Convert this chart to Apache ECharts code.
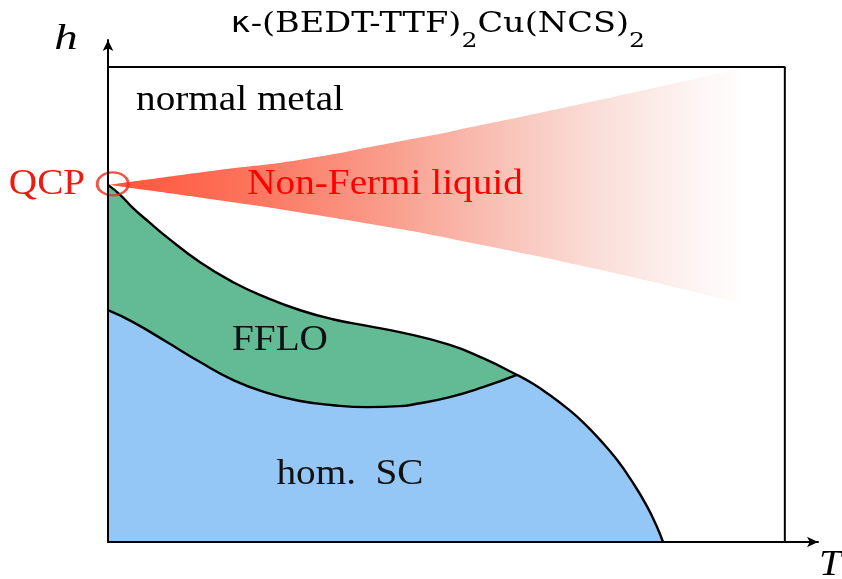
<!DOCTYPE html>
<html>
<head>
<meta charset="utf-8">
<script src="https://cdn.jsdelivr.net/npm/echarts@6/dist/echarts.min.js"></script>
<style>html,body{margin:0;padding:0;background:#fff;}#c{width:842px;height:579px;}</style>
</head>
<body>
<div id="c"></div>
<script>
// Upper boundary (normal metal -> FFLO / SC), T and h in arbitrary units
const T_upper = [0, 0.18, 0.37, 0.62, 0.87, 1.36, 1.85, 2.35, 2.84, 3.32, 3.83, 4.31, 5.05, 5.54, 6.04, 6.28, 6.53, 6.78, 7.02, 7.27, 7.52, 7.75, 7.96, 8.11, 8.20];
const h_upper = [7.52, 7.31, 7.03, 6.72, 6.42, 5.89, 5.47, 5.14, 4.88, 4.69, 4.55, 4.42, 4.15, 3.87, 3.52, 3.33, 3.09, 2.82, 2.52, 2.15, 1.73, 1.26, 0.76, 0.32, 0];
// Lower FFLO boundary (FFLO -> homogeneous SC)
const T_lower = [0, 0.37, 0.87, 1.36, 1.85, 2.35, 2.84, 3.32, 3.83, 4.31, 4.56, 5.05, 5.54, 6.04];
const h_lower = [4.88, 4.63, 4.21, 3.79, 3.41, 3.14, 2.97, 2.88, 2.84, 2.86, 2.91, 3.05, 3.26, 3.52];
// Non-Fermi liquid wedge edges
const T_nfl = [0, 1.61, 2.84, 4.31, 5.05, 7.27, 9.34];
const h_nfl_top = [7.52, 7.83, 8.05, 8.44, 8.64, 9.31, 9.97];
const h_nfl_bot = [7.52, 7.20, 6.94, 6.59, 6.39, 5.73, 5.02];
// QCP location, FFLO/SC junction temperature and plot frame
const QCP = [0.07, 7.54];
const T_junction = 6.04;
const FRAME = [[0, 10], [10, 10], [10, 0]];

const zip = (a, b) => a.map((v, i) => [v, b[i]]);
const upperPts = zip(T_upper, h_upper);
const lowerPts = zip(T_lower, h_lower);
const nflTop = zip(T_nfl, h_nfl_top);
const nflBot = zip(T_nfl, h_nfl_bot);

const GREEN = '#62bb95', BLUE = '#94c7f5';
const LAB = '35px "Liberation Serif", serif';
const LSX = 1.12;

// title pieces laid out with measured widths
const ctx = document.createElement('canvas').getContext('2d');
const tw = (t, f) => { ctx.font = f; return ctx.measureText(t).width; };
const titleParts = [
  {t: 'κ', f: '28px "DejaVu Sans"', y: 25},
  {t: '-(BEDT-TTF)', f: '28px "DejaVu Serif"', y: 25},
  {t: '2', f: '21px "DejaVu Serif"', y: 42},
  {t: 'Cu(NCS)', f: '28px "DejaVu Serif"', y: 25},
  {t: '2', f: '21px "DejaVu Serif"', y: 42}
];
const totalW = titleParts.reduce((s, p) => s + tw(p.t, p.f), 0);
let cx = -totalW / 2;
const titleChildren = titleParts.map(p => {
  const el = {type: 'text', x: cx, y: p.y, style: {text: p.t, font: p.f, fill: '#000', align: 'left', verticalAlign: 'middle'}};
  cx += tw(p.t, p.f);
  return el;
});

const chart = echarts.init(document.getElementById('c'), null, {renderer: 'canvas'});
const SMOOTH = 0.5;
const lineBase = {type: 'line', showSymbol: false, silent: true, smooth: SMOOTH};
const axisCommon = {
  type: 'value', min: 0, z: 10,
  axisLine: {show: true, onZero: false, lineStyle: {color: '#000', width: 2}, symbol: ['none', 'arrow'], symbolSize: [8, 11]},
  axisTick: {show: false}, axisLabel: {show: false}, splitLine: {show: false}
};

function buildOption(regionFill) {
  return {
    animation: false,
    backgroundColor: '#ffffff',
    grid: {left: 108, top: 40, right: 24, bottom: 37},
    xAxis: Object.assign({}, axisCommon, {max: 10.49}),
    yAxis: Object.assign({}, axisCommon, {max: 10.57}),
    series: [
      // 0: region below the upper boundary (green left of junction, blue right)
      Object.assign({}, lineBase, {data: upperPts, lineStyle: {width: 0}, areaStyle: {color: regionFill, opacity: 1}, z: 3}),
      // 1: non-Fermi-liquid wedge (gradient under top edge)
      Object.assign({}, lineBase, {
        data: nflTop, lineStyle: {width: 0}, z: 1,
        areaStyle: {
          opacity: 1,
          color: new echarts.graphic.LinearGradient(0, 0, 1, 0, [
            {offset: 0, color: 'rgba(255,84,58,1)'},
            {offset: 0.2, color: 'rgba(253,112,88,1)'},
            {offset: 0.45, color: 'rgba(249,155,138,0.97)'},
            {offset: 0.7, color: 'rgba(248,200,190,0.85)'},
            {offset: 0.88, color: 'rgba(250,225,220,0.6)'},
            {offset: 1, color: 'rgba(252,240,238,0.2)'}
          ])
        }
      }),
      // 2: white mask below the wedge's lower edge
      Object.assign({}, lineBase, {data: nflBot, lineStyle: {width: 0}, areaStyle: {color: '#ffffff', opacity: 1}, z: 2}),
      // 3: homogeneous SC below lower FFLO boundary
      Object.assign({}, lineBase, {data: lowerPts, lineStyle: {width: 2.4, color: '#000'}, areaStyle: {color: BLUE, opacity: 1}, z: 4}),
      // 4: upper boundary black line
      Object.assign({}, lineBase, {data: upperPts, lineStyle: {width: 2.4, color: '#000'}, z: 5}),
      // 5: frame
      {type: 'line', data: FRAME, showSymbol: false, silent: true, clip: false, lineStyle: {width: 2, color: '#000'}, z: 6},
      // 6: QCP marker
      {
        type: 'scatter', data: [QCP], symbol: 'circle', symbolSize: [31, 23], silent: true, clip: false,
        itemStyle: {color: 'rgba(0,0,0,0)', borderColor: '#ee2a1b', borderWidth: 2.6}, z: 7
      }
    ],
    graphic: [
      {type: 'group', x: 438, y: 0, scaleX: 1.2, z: 10, children: titleChildren},
      {type: 'text', x: 66, y: 40, scaleX: 1.3, z: 10, style: {text: 'h', font: 'italic 36px "Liberation Serif"', fill: '#000', align: 'center', verticalAlign: 'middle'}},
      {type: 'text', x: 819, y: 566, scaleX: 1.15, z: 10, style: {text: 'T', font: 'italic 35px "Liberation Serif"', fill: '#000', align: 'left', verticalAlign: 'middle'}},
      {type: 'text', x: 240, y: 101, scaleX: LSX, z: 10, style: {text: 'normal metal', font: LAB, fill: '#000', align: 'center', verticalAlign: 'middle'}},
      {type: 'text', x: 47, y: 185, scaleX: LSX, z: 10, style: {text: 'QCP', font: LAB, fill: '#ee1c10', align: 'center', verticalAlign: 'middle'}},
      {type: 'text', x: 385, y: 185, scaleX: LSX, z: 10, style: {text: 'Non-Fermi liquid', font: LAB, fill: '#ff0000', align: 'center', verticalAlign: 'middle'}},
      {type: 'text', x: 280, y: 341, scaleX: LSX, z: 10, style: {text: 'FFLO', font: LAB, fill: '#111', align: 'center', verticalAlign: 'middle'}},
      {type: 'text', x: 350, y: 475, scaleX: LSX, z: 10, style: {text: 'hom.  SC', font: LAB, fill: '#111', align: 'center', verticalAlign: 'middle'}}
    ]
  };
}

// first pass to establish the scales, then split the fill colour at the junction temperature
chart.setOption(buildOption(GREEN));
const x0 = chart.convertToPixel({gridIndex: 0}, [T_upper[0], 0])[0];
const x1 = chart.convertToPixel({gridIndex: 0}, [T_upper[T_upper.length - 1], 0])[0];
const xj = chart.convertToPixel({gridIndex: 0}, [T_junction, 0])[0] - 2; // keep the seam column blue
const f = (xj - x0) / (x1 - x0);
const splitFill = new echarts.graphic.LinearGradient(x0, 0, x1, 0, [
  {offset: 0, color: GREEN}, {offset: f, color: GREEN},
  {offset: f, color: BLUE}, {offset: 1, color: BLUE}
], true);
chart.setOption(buildOption(splitFill), true);
</script>
</body>
</html>
